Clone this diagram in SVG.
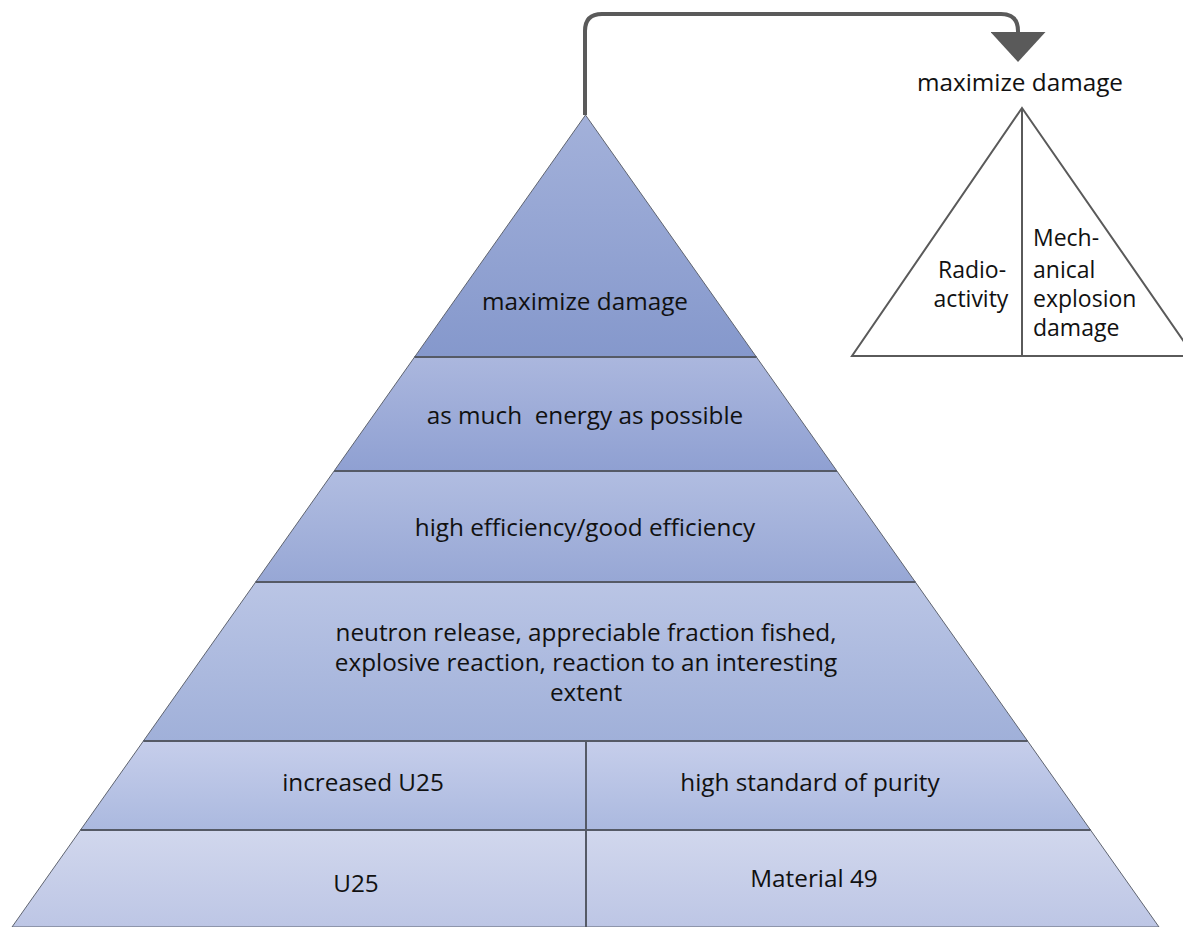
<svg xmlns="http://www.w3.org/2000/svg" width="1183" height="927" viewBox="0 0 1183 927">
  <style>
    text { font-family: "Open Sans", "Noto Sans", sans-serif; font-size: 24.3px; fill: #111; white-space: pre; }
    .c { text-anchor: middle; }
    .s { font-size: 23px; }
    .tier { stroke: #5f6470; stroke-width: 1; }
    .sep { stroke: #555a66; stroke-width: 2; fill: none; }
    .outline { stroke: #5a5a5a; stroke-width: 2; fill: #ffffff; }
    .link { stroke: #5a5a5a; stroke-width: 4; fill: none; }
  </style>
  <defs>
    <linearGradient id="g1" x1="0" y1="0" x2="0" y2="1"><stop offset="0" stop-color="#a3b1da"/><stop offset="1" stop-color="#8598cc"/></linearGradient>
    <linearGradient id="g2" x1="0" y1="0" x2="0" y2="1"><stop offset="0" stop-color="#abb7de"/><stop offset="1" stop-color="#8fa0d2"/></linearGradient>
    <linearGradient id="g3" x1="0" y1="0" x2="0" y2="1"><stop offset="0" stop-color="#b1bde1"/><stop offset="1" stop-color="#97a7d5"/></linearGradient>
    <linearGradient id="g4" x1="0" y1="0" x2="0" y2="1"><stop offset="0" stop-color="#bac5e5"/><stop offset="1" stop-color="#a0b0d9"/></linearGradient>
    <linearGradient id="g5" x1="0" y1="0" x2="0" y2="1"><stop offset="0" stop-color="#c6ceeb"/><stop offset="1" stop-color="#abb9df"/></linearGradient>
    <linearGradient id="g6" x1="0" y1="0" x2="0" y2="1"><stop offset="0" stop-color="#d1d7ed"/><stop offset="1" stop-color="#bdc6e5"/></linearGradient>
    <marker id="arrow" viewBox="0 0 30 55" refX="0" refY="27.5" markerWidth="30" markerHeight="55" markerUnits="userSpaceOnUse" orient="auto">
      <path d="M0,0 L30,27.5 L0,55 Z" fill="#5a5a5a"/>
    </marker>
  </defs>

  <!-- pyramid tiers, apex (585.5,115), side slope 0.7063 px per px -->
  <g id="tier-damage">
    <polygon class="tier" fill="url(#g1)" points="585.5,115 756.4,357 414.6,357"/>
    <text class="c" x="585" y="310">maximize damage</text>
  </g>
  <g id="tier-energy">
    <polygon class="tier" fill="url(#g2)" points="414.6,357 756.4,357 836.9,471 334.1,471"/>
    <text class="c" x="585" y="424">as much  energy as possible</text>
  </g>
  <g id="tier-efficiency">
    <polygon class="tier" fill="url(#g3)" points="334.1,471 836.9,471 915.3,582 255.7,582"/>
    <text class="c" x="585" y="536">high efficiency/good efficiency</text>
  </g>
  <g id="tier-reaction">
    <polygon class="tier" fill="url(#g4)" points="255.7,582 915.3,582 1027.6,741 143.4,741"/>
    <text class="c" x="586" y="641">neutron release, appreciable fraction fished,</text>
    <text class="c" x="586" y="671">explosive reaction, reaction to an interesting</text>
    <text class="c" x="586" y="701">extent</text>
  </g>
  <g id="tier-enrichment">
    <polygon class="tier" fill="url(#g5)" points="143.4,741 1027.6,741 1090.5,830 80.5,830"/>
    <text class="c" x="363" y="791">increased U25</text>
    <text class="c" x="810" y="791">high standard of purity</text>
  </g>
  <g id="tier-material">
    <polygon class="tier" fill="url(#g6)" points="80.5,830 1090.5,830 1159,927 12,927"/>
    <text class="c" x="356" y="892">U25</text>
    <text class="c" x="814" y="887">Material 49</text>
  </g>
  <g id="tier-separators">
    <line class="sep" x1="414.6" y1="357" x2="756.4" y2="357"/>
    <line class="sep" x1="334.1" y1="471" x2="836.9" y2="471"/>
    <line class="sep" x1="255.7" y1="582" x2="915.3" y2="582"/>
    <line class="sep" x1="143.4" y1="741" x2="1027.6" y2="741"/>
    <line class="sep" x1="80.5" y1="830" x2="1090.5" y2="830"/>
    <line class="sep" x1="586" y1="741" x2="586" y2="927" stroke-width="1.5"/>
  </g>

  <!-- split triangle: the two kinds of damage -->
  <g id="damage-kinds">
    <text class="c" x="1020" y="91">maximize damage</text>
    <polygon class="outline" points="1022,108 1194,356 852,356"/>
    <line class="outline" x1="1022" y1="108" x2="1022" y2="356"/>
    <text class="c s" x="972" y="278">Radio-</text>
    <text class="c s" x="971" y="307">activity</text>
    <text class="s" x="1033" y="246">Mech-</text>
    <text class="s" x="1033" y="278">anical</text>
    <text class="s" x="1033" y="307">explosion</text>
    <text class="s" x="1033" y="336">damage</text>
  </g>

  <g id="connectors">
    <path class="link" d="M585,115 V31 Q585,14 602,14 H1001 Q1018,14 1018,31 V32" marker-end="url(#arrow)"/>
  </g>
</svg>
